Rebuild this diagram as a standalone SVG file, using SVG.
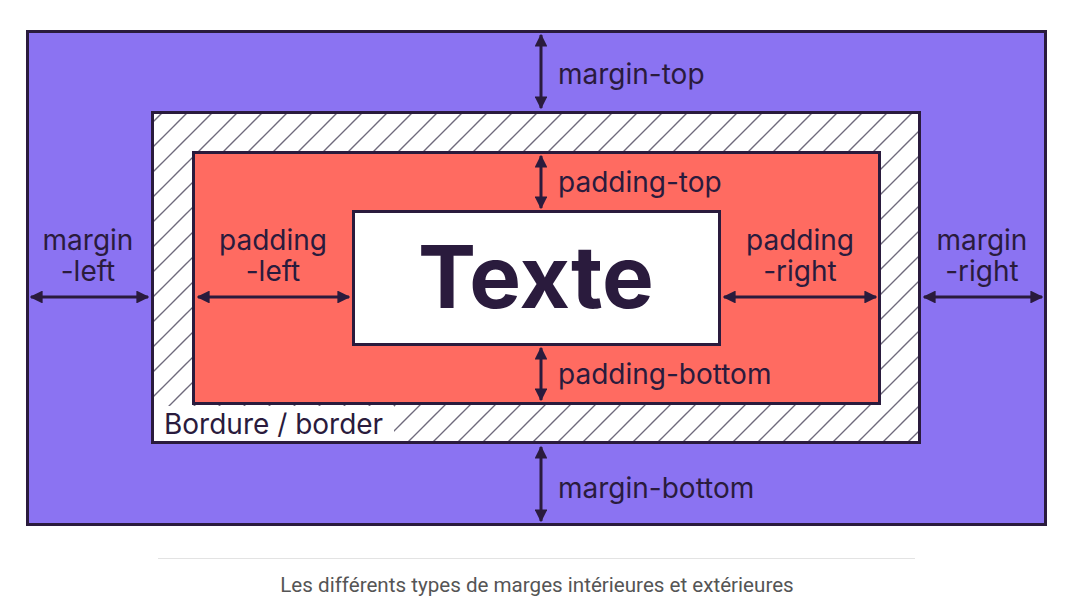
<svg xmlns="http://www.w3.org/2000/svg" width="1073" height="610" viewBox="0 0 1073 610">
<defs>
<pattern id="hatch" patternUnits="userSpaceOnUse" width="25" height="25">
<path d="M0,25 L25,0 M-5,5 L5,-5 M20,30 L30,20" stroke="#6f6a7c" stroke-width="1.4"/>
</pattern>
<marker id="ah" viewBox="0 0 10 10" refX="9" refY="5" markerWidth="4.3" markerHeight="4.3" orient="auto-start-reverse">
<path d="M0,0 L10,5 L0,10 z" fill="#2a1b3d"/>
</marker>
</defs>
<style>
.box{stroke:#2a1b3d;stroke-width:3}
.lbl{font-family:Inter,"Liberation Sans",sans-serif;font-size:28px;fill:#2a1b3d}
.mid{text-anchor:middle}
.arr{stroke:#2a1b3d;stroke-width:3;fill:none;marker-start:url(#ah);marker-end:url(#ah)}
</style>
<rect width="1073" height="610" fill="#ffffff"/>
<g id="margin">
<rect class="box" x="27.5" y="31.5" width="1018" height="493" fill="#8b73f2"/>
</g>
<g id="border">
<rect class="box" x="152.5" y="112.5" width="767" height="330" fill="#ffffff"/>
<rect x="154" y="114" width="764" height="327" fill="url(#hatch)"/>
<rect x="154" y="406" width="240" height="35" fill="#ffffff"/>
<text class="lbl" x="164" y="434">Bordure / border</text>
</g>
<g id="padding">
<rect class="box" x="193.5" y="152.5" width="686" height="251" fill="#ff6b61"/>
</g>
<g id="content">
<rect class="box" x="353.5" y="211.5" width="366" height="133" fill="#ffffff"/>
<text x="536" y="308" text-anchor="middle" font-family="Inter,'Liberation Sans',sans-serif" font-weight="700" font-size="87" fill="#2a1b3d">Texte</text>
</g>
<g id="connectors">
<line class="arr" x1="541" y1="35" x2="541" y2="108"/>
<line class="arr" x1="541" y1="156" x2="541" y2="208"/>
<line class="arr" x1="541" y1="348" x2="541" y2="400"/>
<line class="arr" x1="541" y1="447" x2="541" y2="521"/>
<line class="arr" x1="31" y1="297" x2="148" y2="297"/>
<line class="arr" x1="198" y1="297" x2="349" y2="297"/>
<line class="arr" x1="724" y1="297" x2="876" y2="297"/>
<line class="arr" x1="924" y1="297" x2="1042" y2="297"/>
</g>
<g id="labels">
<text class="lbl" x="558" y="84">margin-top</text>
<text class="lbl" x="558" y="192">padding-top</text>
<text class="lbl" x="558" y="384">padding-bottom</text>
<text class="lbl" x="558" y="498">margin-bottom</text>
<text class="lbl mid" x="88" y="250">margin</text>
<text class="lbl mid" x="88" y="281">-left</text>
<text class="lbl mid" x="273" y="250">padding</text>
<text class="lbl mid" x="273" y="281">-left</text>
<text class="lbl mid" x="800" y="250">padding</text>
<text class="lbl mid" x="800" y="281">-right</text>
<text class="lbl mid" x="982" y="250">margin</text>
<text class="lbl mid" x="982" y="281">-right</text>
</g>
<g id="caption">
<line x1="158" y1="558.5" x2="915" y2="558.5" stroke="#e3e3e3" stroke-width="1"/>
<text x="537" y="592" text-anchor="middle" font-family="Roboto,'Liberation Sans',sans-serif" font-size="20.6" fill="#555555">Les différents types de marges intérieures et extérieures</text>
</g>
</svg>
